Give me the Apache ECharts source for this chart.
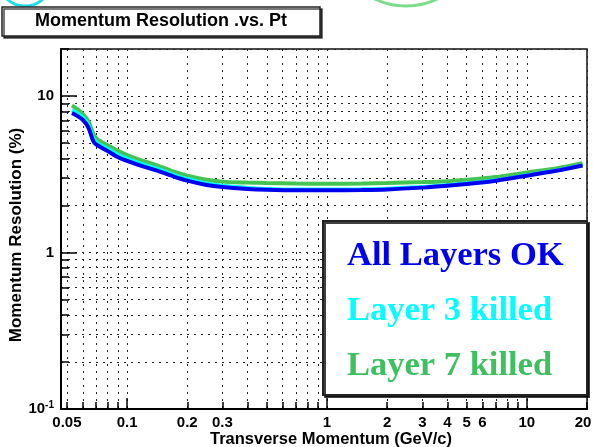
<!DOCTYPE html>
<html>
<head>
<meta charset="utf-8">
<script src="https://cdn.jsdelivr.net/npm/echarts@6/dist/echarts.min.js"></script>
<style>
  html, body { margin: 0; padding: 0; background: #fff; }
  #chart { width: 593px; height: 447px; }
</style>
</head>
<body>
<div id="chart"></div>
<script>
// Transverse momentum sample points (GeV/c)
const ptValues = [0.053, 0.056, 0.060, 0.064, 0.068, 0.071, 0.080, 0.089, 0.10, 0.12, 0.14, 0.17,
  0.20, 0.25, 0.30, 0.40, 0.50, 0.70, 1.0, 1.5, 2.0, 3.0, 4.0, 5.0, 7.0, 10.0, 14.0, 19.0];

// Momentum resolution (%) for each detector configuration
const allLayersOK = [7.8, 7.5, 7.05, 6.3, 5.1, 4.85, 4.45, 4.1, 3.85, 3.55, 3.35, 3.07,
  2.88, 2.70, 2.62, 2.55, 2.52, 2.50, 2.50, 2.51, 2.53, 2.60, 2.67, 2.74, 2.88, 3.10, 3.33, 3.60];
const layer3Killed = [8.1, 7.8, 7.3, 6.55, 5.3, 5.0, 4.6, 4.25, 3.98, 3.66, 3.45, 3.15,
  2.95, 2.76, 2.67, 2.59, 2.55, 2.53, 2.53, 2.54, 2.56, 2.62, 2.69, 2.76, 2.90, 3.12, 3.35, 3.62];
const layer7Killed = [8.7, 8.3, 7.7, 6.9, 5.7, 5.3, 4.85, 4.5, 4.2, 3.85, 3.62, 3.3,
  3.1, 2.92, 2.84, 2.80, 2.78, 2.76, 2.75, 2.76, 2.78, 2.82, 2.86, 2.92, 3.04, 3.25, 3.45, 3.72];

// Axis ticks and labels
const xLabelValues = [0.05, 0.1, 0.2, 0.3, 1, 2, 3, 4, 5, 6, 10, 20];
const xMajorTicks = [0.1, 1, 10];
const xMinorTicks = [0.05, 0.06, 0.07, 0.08, 0.09, 0.2, 0.3, 0.4, 0.5, 0.6, 0.7, 0.8, 0.9,
  2, 3, 4, 5, 6, 7, 8, 9, 20];
const yLabelValues = [0.1, 1, 10];
const yMajorTicks = [0.1, 1, 10];
const yMinorTicks = [0.2, 0.3, 0.4, 0.5, 0.6, 0.7, 0.8, 0.9, 2, 3, 4, 5, 6, 7, 8, 9, 20];

const seriesNames = ['All Layers OK', 'Layer 3 killed', 'Layer 7 killed'];
const seriesColors = ['#0000f0', '#00ffff', '#44c453'];
const textColors = ['#0000f0', '#00ffff', '#3ec060'];

const X_MIN = 0.0467, X_MAX = 20, Y_MIN = 0.1, Y_MAX = 20;
const sansBold = { fontFamily: 'Liberation Sans, Arial, sans-serif', fontWeight: 'bold', color: '#000' };
const gridDots = { show: true, lineStyle: { color: '#222', width: 1, type: [2, 5] } };

function pairs(xs, ys) { return xs.map((x, i) => [x, ys[i]]); }
function numText(v) { return String(+(+v).toPrecision(3)); }

const chart = echarts.init(document.getElementById('chart'), null, { renderer: 'canvas' });

chart.setOption({
  animation: false,
  backgroundColor: '#fff',
  title: {
    text: 'Momentum Resolution .vs. Pt',
    left: 2, top: 7,
    padding: [5, 33, 5, 33],
    backgroundColor: '#fff',
    borderColor: '#222', borderWidth: 1.5,
    shadowColor: 'rgba(0,0,0,0.7)', shadowOffsetX: 2, shadowOffsetY: 2, shadowBlur: 0,
    textStyle: Object.assign({ fontSize: 18, lineHeight: 19, color: '#222' }, sansBold)
  },
  legend: {
    orient: 'vertical',
    left: 337, top: 234,
    icon: 'none', itemWidth: 0, itemGap: 20,
    selectedMode: false,
    z: 20,
    textStyle: { fontFamily: 'Liberation Serif, Times New Roman, serif', fontWeight: 'bold', fontSize: 34.5, lineHeight: 35 },
    data: seriesNames.map((n, i) => ({ name: n, textStyle: { color: textColors[i] } }))
  },
  grid: {
    left: 61, top: 49, right: 6, bottom: 38,
    outerBoundsMode: 'none', containLabel: false,
    show: true, borderColor: '#111', borderWidth: 1.5, backgroundColor: 'transparent'
  },
  xAxis: [
    {
      type: 'log', logBase: 10, min: X_MIN, max: X_MAX,
      name: 'Transverse Momentum (GeV/c)', nameLocation: 'middle', nameGap: 22, nameMoveOverlap: false,
      nameTextStyle: Object.assign({ fontSize: 16.5, padding: [0, 0, 0, 14] }, sansBold),
      axisLine: { show: true, lineStyle: { color: '#000', width: 2 } },
      axisTick: { show: true, inside: true, length: 11, customValues: xMajorTicks, lineStyle: { color: '#000', width: 1.5 } },
      axisLabel: Object.assign({
        fontSize: 15, margin: 6, customValues: xLabelValues,
        // the last label is kept inside the canvas edge
        formatter: v => (+v >= 15 ? '{r|' + numText(v) + '}' : numText(v)),
        rich: { r: Object.assign({ fontSize: 15, padding: [0, 8, 0, 0] }, sansBold) }
      }, sansBold),
      splitLine: gridDots
    },
    {
      type: 'log', logBase: 10, min: X_MIN, max: X_MAX, position: 'bottom',
      axisLine: { show: false },
      axisTick: { show: true, inside: true, length: 7, customValues: xMinorTicks, lineStyle: { color: '#000', width: 1.5 } },
      axisLabel: { show: false },
      splitLine: gridDots
    }
  ],
  yAxis: [
    {
      type: 'log', logBase: 10, min: Y_MIN, max: Y_MAX,
      name: 'Momentum Resolution (%)', nameLocation: 'middle', nameGap: 36, nameRotate: 90, nameMoveOverlap: false,
      nameTextStyle: Object.assign({ fontSize: 17, padding: [0, 12, 0, 0] }, sansBold),
      axisLine: { show: true, lineStyle: { color: '#000', width: 2 } },
      axisTick: { show: true, inside: true, length: 16, customValues: yMajorTicks, lineStyle: { color: '#000', width: 1.5 } },
      axisLabel: Object.assign({
        fontSize: 15, margin: 7, customValues: yLabelValues,
        formatter: v => (v < 0.5 ? '{b|10}{s|-1}' : numText(v)),
        rich: {
          b: Object.assign({ fontSize: 15 }, sansBold),
          s: Object.assign({ fontSize: 10, verticalAlign: 'top', padding: [0, 0, 8, 0] }, sansBold)
        }
      }, sansBold),
      splitLine: gridDots
    },
    {
      type: 'log', logBase: 10, min: Y_MIN, max: Y_MAX, position: 'left',
      axisLine: { show: false },
      axisTick: { show: true, inside: true, length: 8, customValues: yMinorTicks, lineStyle: { color: '#000', width: 1.5 } },
      axisLabel: { show: false },
      splitLine: gridDots
    }
  ],
  series: [
    { name: seriesNames[2], type: 'line', data: pairs(ptValues, layer7Killed), z: 3 },
    { name: seriesNames[1], type: 'line', data: pairs(ptValues, layer3Killed), z: 4 },
    { name: seriesNames[0], type: 'line', data: pairs(ptValues, allLayersOK), z: 5 }
  ].map(s => Object.assign(s, {
    showSymbol: false, smooth: 0.3, clip: true,
    lineStyle: { width: 4, color: seriesColors[seriesNames.indexOf(s.name)] },
    itemStyle: { color: seriesColors[seriesNames.indexOf(s.name)] }
  })),
  graphic: [
    // partial markers peeking in at the top edge
    { type: 'circle', shape: { cx: 25, cy: -21, r: 27 }, style: { fill: 'none', stroke: '#22dde6', lineWidth: 3 }, z: 1 },
    { type: 'circle', shape: { cx: 406, cy: -65, r: 71 }, style: { fill: 'none', stroke: '#7ddc8c', lineWidth: 3 }, z: 1 },
    // legend frame with drop shadow
    { type: 'rect', shape: { x: 323, y: 221, width: 264, height: 174 },
      style: { fill: '#fff', stroke: '#222', lineWidth: 2, shadowColor: 'rgba(0,0,0,0.75)', shadowOffsetX: 2, shadowOffsetY: 2, shadowBlur: 0 },
      z: 10 }
  ]
});
</script>
</body>
</html>
